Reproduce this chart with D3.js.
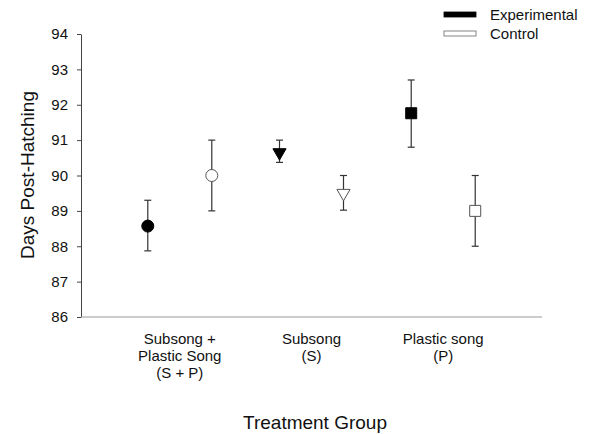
<!DOCTYPE html>
<head>
    <meta charset="utf-8">
    <title>Days post-hatching by treatment group</title>
    <style>
        body { margin: 0; background: #fff; }
        text { font-family: "Liberation Sans", Arial, sans-serif; fill: #111; }
    </style>
</head>

<body>
    <svg width="590" height="434"></svg>

    <script src="https://d3js.org/d3.v7.min.js"></script>

    <script>

        // groups along the x axis (label lines)
        var groups = ["SP", "S", "P"];
        var groupLabels = [
            ["Subsong +", "Plastic Song", "(S + P)"],
            ["Subsong", "(S)"],
            ["Plastic song", "(P)"]
        ];
        var series = ["Experimental", "Control"];
        var shapes = [d3.symbolCircle, d3.symbolTriangle, d3.symbolSquare];

        // mean and error bar ends, per group
        var expMean = [88.57, 90.65, 91.76];
        var expLow = [87.87, 90.37, 90.8];
        var expHigh = [89.3, 91.0, 92.7];
        var ctrlMean = [90.0, 89.5, 89.0];
        var ctrlLow = [89.0, 89.02, 88.0];
        var ctrlHigh = [91.0, 90.0, 90.0];
        var yTicks = [86, 87, 88, 89, 90, 91, 92, 93, 94];

        var svg = d3.select("svg"),
            plotLeft = 81, plotRight = 542, plotTop = 34, plotBottom = 317;

        var x = d3.scalePoint().domain(groups).range([plotLeft, plotRight]).padding(0.75);
        var offset = d3.scalePoint().domain(series).range([-32, 32]);
        var y = d3.scaleLinear().domain([86, 94]).range([plotBottom, plotTop]);

        var points = [];
        groups.forEach(function (g, i) {
            points.push({ group: g, s: "Experimental", i: i, mean: expMean[i], lo: expLow[i], hi: expHigh[i] });
            points.push({ group: g, s: "Control", i: i, mean: ctrlMean[i], lo: ctrlLow[i], hi: ctrlHigh[i] });
        });

        // y axis
        var yAxis = svg.append("g")
            .attr("transform", "translate(" + plotLeft + ",0)")
            .call(d3.axisLeft(y).tickValues(yTicks).tickSize(4).tickSizeOuter(0).tickPadding(9));
        yAxis.selectAll("path, line").attr("stroke", "#444");
        yAxis.selectAll("text").attr("font-size", 15).attr("font-family", "'Liberation Sans', Arial, sans-serif").attr("fill", "#111");

        // x axis line only
        svg.append("line")
            .attr("x1", plotLeft).attr("x2", plotRight)
            .attr("y1", plotBottom).attr("y2", plotBottom)
            .attr("stroke", "#999").attr("stroke-width", 1.2);

        // category labels
        groups.forEach(function (g, i) {
            svg.append("text")
                .attr("x", x(g))
                .attr("y", 344)
                .attr("text-anchor", "middle")
                .attr("font-size", 15)
                .selectAll("tspan")
                .data(groupLabels[i])
                .enter().append("tspan")
                .attr("x", x(g))
                .attr("dy", function (d, j) { return j ? 17 : 0; })
                .text(function (d) { return d; });
        });

        // axis titles
        svg.append("text")
            .attr("x", 315).attr("y", 429)
            .attr("text-anchor", "middle")
            .attr("font-size", 19)
            .text("Treatment Group");

        svg.append("text")
            .attr("transform", "translate(34,175) rotate(-90)")
            .attr("text-anchor", "middle")
            .attr("font-size", 19)
            .text("Days Post-Hatching");

        // error bars
        var bars = svg.selectAll(".err")
            .data(points)
            .enter().append("g")
            .attr("class", "err")
            .attr("stroke", "#333")
            .attr("stroke-width", 1.2);

        var px = function (d) { return x(d.group) + offset(d.s); };

        bars.append("line")
            .attr("x1", px).attr("x2", px)
            .attr("y1", function (d) { return y(d.lo); })
            .attr("y2", function (d) { return y(d.hi); });
        bars.append("line")
            .attr("x1", function (d) { return px(d) - 3.5; })
            .attr("x2", function (d) { return px(d) + 3.5; })
            .attr("y1", function (d) { return y(d.hi); })
            .attr("y2", function (d) { return y(d.hi); });
        bars.append("line")
            .attr("x1", function (d) { return px(d) - 3.5; })
            .attr("x2", function (d) { return px(d) + 3.5; })
            .attr("y1", function (d) { return y(d.lo); })
            .attr("y2", function (d) { return y(d.lo); });

        // markers
        var sizes = [113, 75, 121];
        svg.selectAll(".pt")
            .data(points)
            .enter().append("path")
            .attr("class", "pt")
            .attr("d", function (d) { return d3.symbol().type(shapes[d.i]).size(sizes[d.i])(); })
            .attr("transform", function (d) {
                var rot = d.i === 1 ? " rotate(180)" : "";
                return "translate(" + px(d) + "," + y(d.mean) + ")" + rot;
            })
            .attr("fill", function (d) { return d.s === "Experimental" ? "#000" : "#fff"; })
            .attr("stroke", function (d) { return d.s === "Experimental" ? "#000" : "#555"; })
            .attr("stroke-width", 1);

        // legend
        var legend = svg.selectAll(".legend")
            .data(series)
            .enter().append("g")
            .attr("class", "legend")
            .attr("transform", function (d, i) { return "translate(444," + (12 + i * 19) + ")"; });

        legend.append("rect")
            .attr("width", 32).attr("height", 5)
            .attr("fill", function (d) { return d === "Experimental" ? "#000" : "#fff"; })
            .attr("stroke", function (d) { return d === "Experimental" ? "#000" : "#666"; })
            .attr("stroke-width", 0.8);

        legend.append("text")
            .attr("x", 46).attr("y", 8)
            .attr("font-size", 15)
            .text(function (d) { return d; });
    </script>
</body>
